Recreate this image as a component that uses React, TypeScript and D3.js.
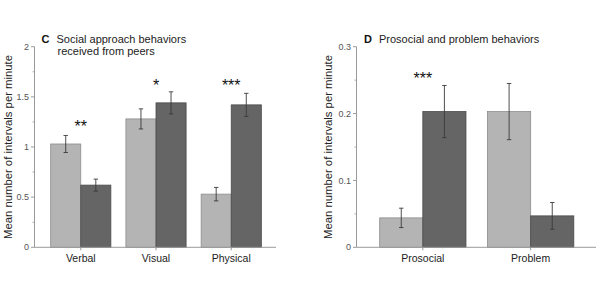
import React from "react";
import * as d3 from "d3";

// Panel C: social approach behaviors received from peers
const socialCategories = ["Verbal", "Visual", "Physical"];
const socialLight = [1.03, 1.28, 0.53];
const socialLightErr = [0.085, 0.1, 0.067];
const socialDark = [0.62, 1.44, 1.42];
const socialDarkErr = [0.06, 0.11, 0.115];
const socialStars = ["**", "*", "***"];
const socialStarLevel = [1.24, 1.65, 1.65];
const socialMajorTicks = [0, 0.5, 1, 1.5, 2];
const socialMinorTicks = [0.25, 0.75, 1.25, 1.75];

// Panel D: prosocial and problem behaviors
const behaviorCategories = ["Prosocial", "Problem"];
const behaviorLight = [0.044, 0.203];
const behaviorLightErr = [0.0145, 0.042];
const behaviorDark = [0.203, 0.047];
const behaviorDarkErr = [0.039, 0.02];
const behaviorStars = ["***", ""];
const behaviorStarLevel = [0.258, 0];
const behaviorMajorTicks = [0, 0.1, 0.2, 0.3];
const behaviorMinorTicks = [0.05, 0.15, 0.25];

const FONT = "'Liberation Sans', Arial, sans-serif";
const LIGHT = "#b4b4b4";
const LIGHT_STROKE = "#8c8c8c";
const DARK = "#656565";
const DARK_STROKE = "#4a4a4a";
const AXIS = "#9a9a9a";
const ERR = "#3a3a3a";

type PanelProps = {
  letter: string;
  titleLines: string[];
  titleX: number;
  categories: string[];
  light: number[];
  lightErr: number[];
  dark: number[];
  darkErr: number[];
  stars: string[];
  starLevel: number[];
  yMax: number;
  majorTicks: number[];
  minorTicks: number[];
  tickFormat: (v: number) => string;
  xRange: [number, number];
  axisEnd: number;
  yLabelX: number;
};

function Panel(p: PanelProps) {
  const y = d3.scaleLinear().domain([0, p.yMax]).range([247.3, 46.7]);
  const x = d3
    .scaleBand<string>()
    .domain(p.categories)
    .range(p.xRange)
    .paddingInner(0.2)
    .paddingOuter(0.215);
  const half = x.bandwidth() / 2;
  const axisX = p.xRange[0];
  const y0 = y(0);
  const cap = 2.2;

  const errBar = (cx: number, v: number, e: number, key: string) => (
    <g key={key} stroke={ERR} strokeWidth={0.9}>
      <line x1={cx} x2={cx} y1={y(v + e)} y2={y(v - e)} />
      <line x1={cx - cap} x2={cx + cap} y1={y(v + e)} y2={y(v + e)} />
      <line x1={cx - cap} x2={cx + cap} y1={y(v - e)} y2={y(v - e)} />
    </g>
  );

  return (
    <g>
      {/* bars */}
      {p.categories.map((c, i) => {
        const x0 = x(c)!;
        return (
          <g key={c}>
            <rect
              x={x0}
              y={y(p.light[i])}
              width={half}
              height={y0 - y(p.light[i])}
              fill={LIGHT}
              stroke={LIGHT_STROKE}
              strokeWidth={0.8}
            />
            <rect
              x={x0 + half}
              y={y(p.dark[i])}
              width={half}
              height={y0 - y(p.dark[i])}
              fill={DARK}
              stroke={DARK_STROKE}
              strokeWidth={0.8}
            />
            {errBar(x0 + half / 2, p.light[i], p.lightErr[i], "l")}
            {errBar(x0 + half * 1.5, p.dark[i], p.darkErr[i], "d")}
            {p.stars[i] && (
              <text
                x={x0 + half}
                y={y(p.starLevel[i]) + 9.5}
                textAnchor="middle"
                fontFamily={FONT}
                fontSize={16}
                fill="#111"
              >
                {p.stars[i]}
              </text>
            )}
          </g>
        );
      })}

      {/* y axis */}
      <line x1={axisX} x2={axisX} y1={y(p.yMax)} y2={y0} stroke={AXIS} strokeWidth={1} />
      {p.majorTicks.map((t) => (
        <g key={"M" + t}>
          <line x1={axisX - 3.5} x2={axisX} y1={y(t)} y2={y(t)} stroke={AXIS} strokeWidth={1} />
          <text
            x={axisX - 5.5}
            y={y(t)}
            dy="0.35em"
            textAnchor="end"
            fontFamily={FONT}
            fontSize={9}
            fill="#555"
          >
            {p.tickFormat(t)}
          </text>
        </g>
      ))}
      {p.minorTicks.map((t) => (
        <line key={"m" + t} x1={axisX - 2} x2={axisX} y1={y(t)} y2={y(t)} stroke={AXIS} strokeWidth={0.8} />
      ))}

      {/* x axis */}
      <line x1={axisX} x2={p.axisEnd} y1={y0} y2={y0} stroke={AXIS} strokeWidth={1} />
      {p.categories.map((c) => {
        const cx = x(c)! + half;
        return (
          <g key={"x" + c}>
            <line x1={cx} x2={cx} y1={y0} y2={y0 + 3} stroke={AXIS} strokeWidth={1} />
            <text
              x={cx}
              y={y0 + 15}
              textAnchor="middle"
              fontFamily={FONT}
              fontSize={10.5}
              fill="#222"
            >
              {c}
            </text>
          </g>
        );
      })}

      {/* y label */}
      <text
        transform={`translate(${p.yLabelX},${y(p.yMax / 2)}) rotate(-90)`}
        textAnchor="middle"
        fontFamily={FONT}
        fontSize={11.3}
        fill="#222"
      >
        Mean number of intervals per minute
      </text>

      {/* title */}
      <text x={p.titleX} y={42.7} fontFamily={FONT} fontSize={11} fontWeight="bold" fill="#111">
        {p.letter}
      </text>
      {p.titleLines.map((line, i) => (
        <text
          key={line}
          x={p.titleX + 15 + i}
          y={42.7 + i * 12}
          fontFamily={FONT}
          fontSize={11}
          fill="#222"
        >
          {line}
        </text>
      ))}
    </g>
  );
}

export default function App() {
  return (
    <svg
      width={600}
      height={300}
      style={{ position: "absolute", left: 0, top: 0, background: "#fff" }}
    >
      <Panel
        letter="C"
        titleLines={["Social approach behaviors", "received from peers"]}
        titleX={41.5}
        categories={socialCategories}
        light={socialLight}
        lightErr={socialLightErr}
        dark={socialDark}
        darkErr={socialDarkErr}
        stars={socialStars}
        starLevel={socialStarLevel}
        yMax={2}
        majorTicks={socialMajorTicks}
        minorTicks={socialMinorTicks}
        tickFormat={(v) => d3.format("~g")(v)}
        xRange={[34.5, 277.5]}
        axisEnd={276}
        yLabelX={12}
      />
      <Panel
        letter="D"
        titleLines={["Prosocial and problem behaviors"]}
        titleX={364}
        categories={behaviorCategories}
        light={behaviorLight}
        lightErr={behaviorLightErr}
        dark={behaviorDark}
        darkErr={behaviorDarkErr}
        stars={behaviorStars}
        starLevel={behaviorStarLevel}
        yMax={0.3}
        majorTicks={behaviorMajorTicks}
        minorTicks={behaviorMinorTicks}
        tickFormat={(v) => d3.format("~g")(v)}
        xRange={[356.5, 597]}
        axisEnd={596}
        yLabelX={332}
      />
    </svg>
  );
}
